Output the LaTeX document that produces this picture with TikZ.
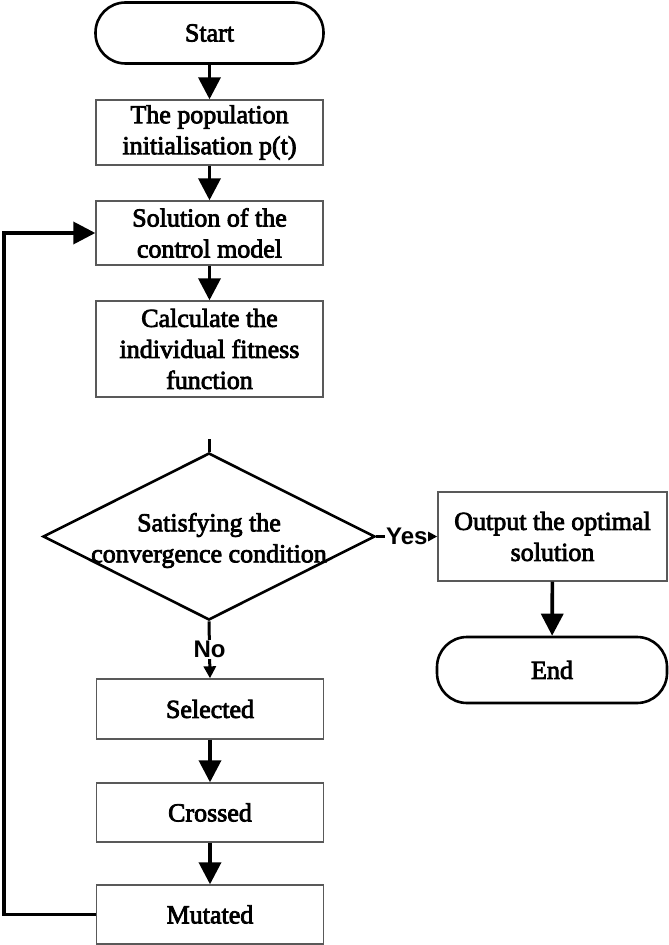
\documentclass[tikz,border=0pt]{standalone}
\usepackage{fontspec}
\setmainfont{Liberation Serif}
\newfontfamily\boxfont{Liberation Serif}[FakeBold=3]
\newfontfamily\yesnofont{Liberation Sans}
\usetikzlibrary{shapes.geometric,arrows.meta}
\begin{document}
\begin{tikzpicture}[x=0.5pt,y=-0.5pt,
    every node/.style={font=\boxfont\fontsize{13}{15.5}\selectfont,align=center},
    procbox/.style={draw=black!65,line width=0.7pt,inner sep=0pt,minimum width=113.5pt},
    termbox/.style={draw,line width=1.3pt,rounded corners=15pt,inner sep=0pt,minimum width=114pt,minimum height=30.5pt},
    decbox/.style={draw,diamond,line width=1.3pt,inner sep=0pt,minimum width=166pt,minimum height=83.5pt},
    answer/.style={font=\yesnofont\bfseries\fontsize{12}{14}\selectfont,fill=white,inner sep=0.5pt},
    bighead/.style={line width=1.8pt,-{Triangle[width=11pt,length=11pt]}},
    smallhead/.style={line width=1.5pt,-{Triangle[width=6pt,length=6pt]}}]
  \useasboundingbox (0,0) rectangle (668,945);
  \draw
    (209.5,33) node[termbox] (start){Start}
    (209.5,132.5) node[procbox,minimum height=32.5pt] (init){The population\\initialisation p(t)}
    (209.5,233) node[procbox,minimum height=32pt] (solve){Solution of the\\control model}
    (209.5,349) node[procbox,minimum height=48pt] (fitness){Calculate the\\individual fitness\\function}
    (209,536.5) node[decbox,label={[yshift=-2pt]center:Satisfying the\\convergence condition}] (cond){}
    (552.5,536.5) node[procbox,minimum width=114.5pt,minimum height=44.5pt] (output){Output the optimal\\solution}
    (552,670) node[termbox,minimum width=115pt,minimum height=33pt] (end){End}
    (210,709) node[procbox,minimum height=30pt] (select){Selected}
    (210,812.5) node[procbox,minimum height=29.5pt] (cross){Crossed}
    (210,914.5) node[procbox,minimum height=29.5pt] (mutate){Mutated};
  \coordinate (stub) at (209,439);
  \coordinate (back) at (4,914.5);
  \begin{scope}[bighead]
    \draw (start) to (init);
    \draw (init) to (solve);
    \draw (solve) to (fitness);
    \draw (output) to (end);
    \draw (select) to (cross);
    \draw (cross) to (mutate);
    \draw (mutate.west) -- (back) |- (solve.west);
  \end{scope}
  \draw[line width=1.5pt] (stub) to (cond);
  \begin{scope}[smallhead]
    \draw (cond.east) -- node[answer]{Yes} (output.west);
    \draw (cond.south) -- node[answer]{No} (select.north);
  \end{scope}
\end{tikzpicture}
\end{document}
